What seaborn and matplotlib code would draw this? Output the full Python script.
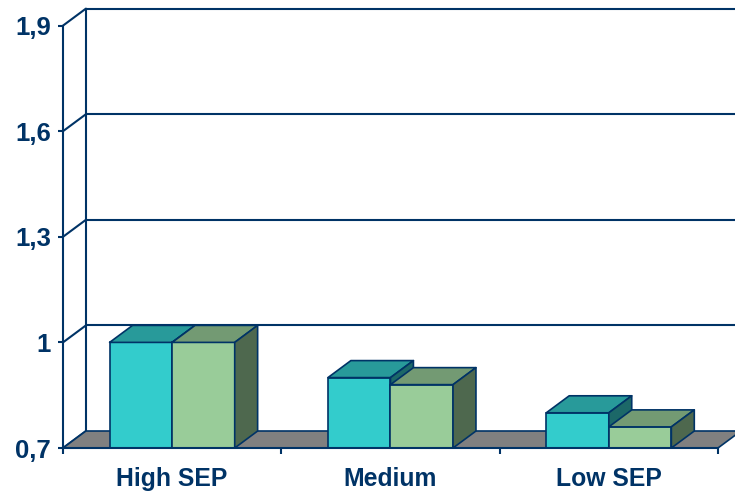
import matplotlib
matplotlib.use("Agg")
import matplotlib.pyplot as plt
import seaborn as sns
import pandas as pd
from matplotlib.patches import Polygon

# Chart data
categories = ["High SEP", "Medium", "Low SEP"]
group_names = ["Group A", "Group B"]
values_a = [1.0, 0.9, 0.80]
values_b = [1.0, 0.88, 0.76]
y_ticks = [0.7, 1.0, 1.3, 1.6, 1.9]
y_tick_labels = ["0,7", "1", "1,3", "1,6", "1,9"]

df = pd.DataFrame({
    "category": categories * 2,
    "group": [group_names[0]] * len(categories) + [group_names[1]] * len(categories),
    "value": values_a + values_b,
})

sns.set_theme(style="white")
plt.rcParams["font.family"] = ["Liberation Sans", "DejaVu Sans"]

navy = "#003366"
front_cols = ["#33CCCC", "#99CC99"]
top_cols = ["#289A9A", "#739A73"]
side_cols = ["#1C6868", "#4E684E"]

fig = plt.figure(figsize=(7.35, 4.96), dpi=100)
ax = fig.add_axes([63 / 735, 48 / 496, 672 / 735, 440 / 496])

sns.barplot(data=df, x="category", y="value", hue="group", order=categories,
            hue_order=group_names, palette=front_cols, saturation=1,
            width=0.573, gap=0, edgecolor=navy, linewidth=1.2,
            errorbar=None, legend=False, ax=ax)

ymin, ymax = 0.7, 1.95
xmin, xmax = -0.5, 2.578
ax.set_xlim(xmin, xmax)
ax.set_ylim(ymin, ymax)

# depth of the pseudo-3D projection, in data units
dx, dy = 0.105, 0.0483

# floor
floor = Polygon([(-0.5, ymin), (2.5, ymin), (2.5 + dx, ymin + dy), (-0.5 + dx, ymin + dy)],
                closed=True, facecolor="#808080", edgecolor=navy, linewidth=1.2,
                zorder=1, clip_on=False)
ax.add_patch(floor)

# back wall: vertical edge, gridlines and connectors to the front axis
ax.plot([-0.5 + dx, -0.5 + dx], [ymin + dy, 1.9 + dy], color=navy, lw=1.5,
        zorder=0.8, clip_on=False, solid_capstyle="butt")
for v in y_ticks:
    ax.plot([-0.5, -0.5 + dx], [v, v + dy], color=navy, lw=1.5, zorder=0.8, clip_on=False)
    if v > ymin:
        ax.plot([-0.5 + dx, xmax], [v + dy, v + dy], color=navy, lw=1.5,
                zorder=0.8, clip_on=False, solid_capstyle="butt")

# extrude each bar: top and right side faces
for i, cont in enumerate(ax.containers):
    for bar in cont:
        x0 = bar.get_x()
        w = bar.get_width()
        h = bar.get_height()
        x1 = x0 + w
        z = 3 + i
        bar.set_zorder(z)
        top = Polygon([(x0, h), (x1, h), (x1 + dx, h + dy), (x0 + dx, h + dy)],
                      closed=True, facecolor=top_cols[i], edgecolor=navy,
                      linewidth=1.2, zorder=z, joinstyle="round")
        side = Polygon([(x1, ymin), (x1, h), (x1 + dx, h + dy), (x1 + dx, ymin + dy)],
                       closed=True, facecolor=side_cols[i], edgecolor=navy,
                       linewidth=1.2, zorder=z, joinstyle="round")
        ax.add_patch(top)
        ax.add_patch(side)

# axes styling
for s in ["top", "right"]:
    ax.spines[s].set_visible(False)
for s in ["left", "bottom"]:
    ax.spines[s].set_color(navy)
    ax.spines[s].set_linewidth(1.5)
    ax.spines[s].set_zorder(10)
ax.spines["left"].set_bounds(0.7, 1.9)
ax.spines["bottom"].set_bounds(-0.5, 2.5)

ax.set_yticks(y_ticks, y_tick_labels)
ax.set_xticks(range(len(categories)), categories)
ax.set_xticks([-0.5, 0.5, 1.5, 2.5], minor=True)
ax.tick_params(axis="y", length=3.6, width=1.5, color=navy, labelcolor=navy,
               labelsize=18.5, pad=5, left=True)
ax.tick_params(axis="x", which="major", length=0, labelcolor=navy,
               labelsize=17.8, pad=14)
ax.tick_params(axis="x", which="minor", length=4, width=1.5, color=navy, bottom=True)
for lbl in ax.get_yticklabels() + ax.get_xticklabels():
    lbl.set_fontweight("bold")
ax.set_xlabel("")
ax.set_ylabel("")
ax.set_facecolor("white")
fig.patch.set_facecolor("white")

fig.savefig("out.png", dpi=100)
